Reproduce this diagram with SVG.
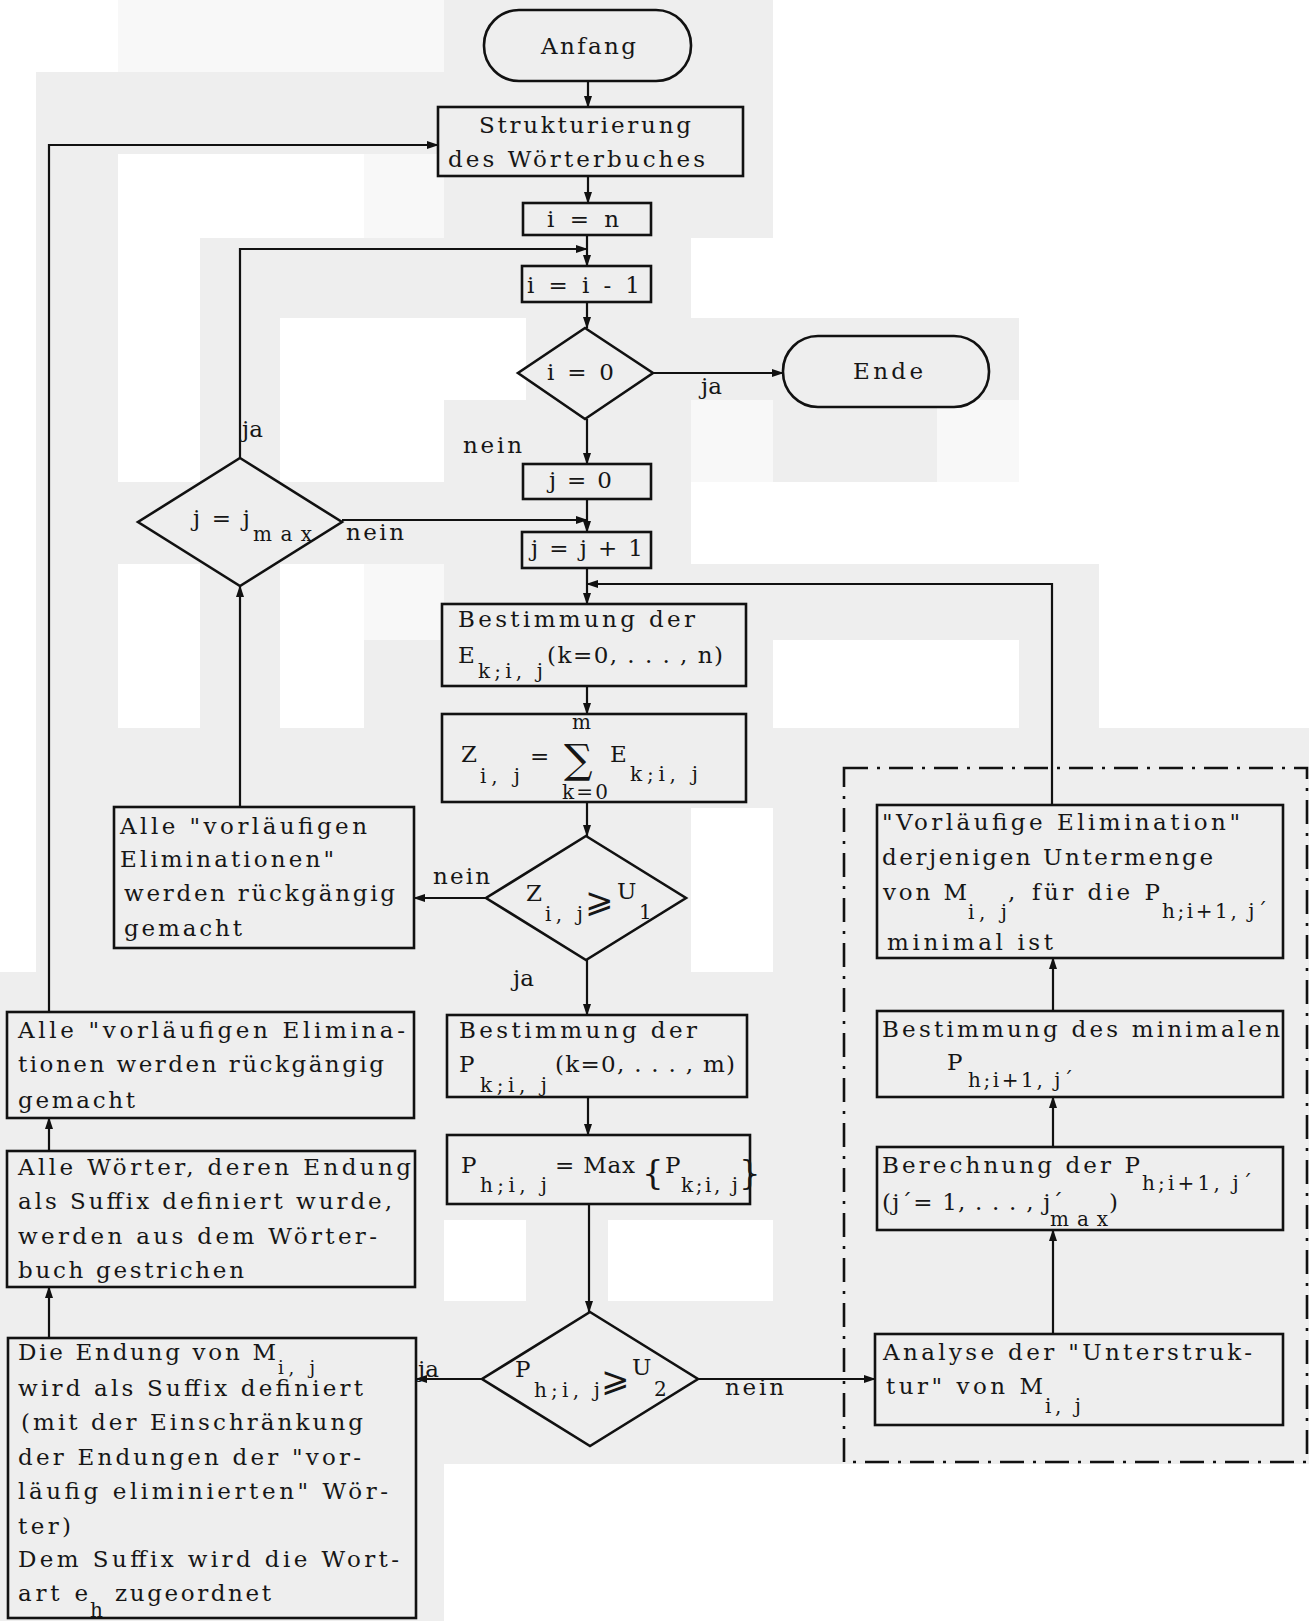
<svg xmlns="http://www.w3.org/2000/svg" width="1309" height="1621" viewBox="0 0 1309 1621">
<style>
.t{font-family:"DejaVu Serif","Liberation Serif",serif;font-size:23px;fill:#161616}
.s{font-size:20px}
.m{font-family:"DejaVu Sans","Noto Sans",sans-serif}
.b{fill:#eeeeee;stroke:#111;stroke-width:2.6}
.c{fill:none;stroke:#111;stroke-width:2.2;marker-end:url(#ah)}
.bg{fill:#eeeeee}
.w{fill:#ffffff}
.f{fill:#f8f8f8}
</style>
<defs>
<marker id="ah" markerWidth="12" markerHeight="10" refX="11" refY="5" orient="auto" markerUnits="userSpaceOnUse"><path d="M0,1 L12,5 L0,9 Z" fill="#111"/></marker>
</defs>
<g id="background">
<rect class="bg" x="0" y="0" width="1309" height="1621"/>
<rect class="w" x="0" y="0" width="118" height="72"/>
<rect class="f" x="118" y="0" width="326" height="72"/>
<rect class="w" x="0" y="0" width="36" height="972"/>
<rect class="w" x="773" y="0" width="536" height="238"/>
<rect class="w" x="691" y="238" width="618" height="80"/>
<rect class="w" x="1019" y="318" width="290" height="164"/>
<rect class="f" x="691" y="400" width="82" height="82"/>
<rect class="f" x="937" y="400" width="82" height="82"/>
<rect class="w" x="691" y="482" width="618" height="82"/>
<rect class="w" x="1099" y="564" width="210" height="164"/>
<rect class="w" x="773" y="640" width="246" height="88"/>
<rect class="w" x="118" y="154" width="246" height="84"/>
<rect class="f" x="364" y="154" width="80" height="84"/>
<rect class="w" x="118" y="238" width="82" height="244"/>
<rect class="w" x="280" y="318" width="164" height="164"/>
<rect class="w" x="444" y="318" width="82" height="82"/>
<rect class="w" x="118" y="564" width="82" height="164"/>
<rect class="w" x="280" y="564" width="84" height="164"/>
<rect class="f" x="364" y="564" width="80" height="76"/>
<rect class="w" x="691" y="808" width="82" height="164"/>
<rect class="w" x="444" y="1220" width="82" height="81"/>
<rect class="w" x="608" y="1220" width="165" height="81"/>
<rect class="w" x="444" y="1464" width="865" height="157"/>
</g>
<g id="connectors">
<path class="c" d="M588 81 V107"/>
<path class="c" d="M588 176 V203"/>
<path class="c" d="M587 235 V266"/>
<path class="c" d="M240 458 V249 H587"/>
<path class="c" d="M587 302 V328"/>
<path class="c" d="M653 373 H783"/>
<path class="c" d="M587 419 V464"/>
<path class="c" d="M587 499 V532"/>
<path class="c" d="M342 520 H587"/>
<path class="c" d="M587 568 V604"/>
<path class="c" d="M1052 805 V584 H587"/>
<path class="c" d="M587 686 V714"/>
<path class="c" d="M587 802 V836"/>
<path class="c" d="M486 898 H414"/>
<path class="c" d="M240 807 V586"/>
<path class="c" d="M587 960 V1015"/>
<path class="c" d="M588 1097 V1135"/>
<path class="c" d="M589 1204 V1312"/>
<path class="c" d="M482 1379 H416"/>
<path class="c" d="M698 1379 H875"/>
<path class="c" d="M1053 1334 V1230"/>
<path class="c" d="M1053 1147 V1097"/>
<path class="c" d="M1053 1011 V958"/>
<path class="c" d="M49 1338 V1287"/>
<path class="c" d="M49 1151 V1118"/>
<path class="c" d="M49 1012 V145 H438"/>
<text class="t" x="701" y="394">ja</text>
<text class="t" x="463" y="453" textLength="59">nein</text>
<text class="t" x="242" y="437">ja</text>
<text class="t" x="346" y="540" textLength="58">nein</text>
<text class="t" x="433" y="884" textLength="57">nein</text>
<text class="t" x="513" y="986">ja</text>
<text class="t" x="418" y="1377">ja</text>
<text class="t" x="725" y="1395" textLength="59">nein</text>
</g>
<g id="frame">
<rect x="844" y="768" width="463" height="694" fill="none" stroke="#111" stroke-width="2.6" stroke-dasharray="24 9 3 9"/>
</g>
<g id="anfang">
<rect class="b" x="484" y="10" width="207" height="71" rx="35"/>
<text class="t" x="541" y="54" textLength="95">Anfang</text>
</g>
<g id="strukturierung">
<rect class="b" x="438" y="107" width="305" height="69"/>
<text class="t" x="479" y="133" textLength="212">Strukturierung</text>
<text class="t" x="448" y="167" textLength="257">des Wörterbuches</text>
</g>
<g id="i_n">
<rect class="b" x="523" y="203" width="128" height="32"/>
<text class="t" x="547" y="227" textLength="72">i = n</text>
</g>
<g id="i_dec">
<rect class="b" x="522" y="266" width="129" height="36"/>
<text class="t" x="527" y="293" textLength="113">i = i - 1</text>
</g>
<g id="i_zero">
<path class="b" d="M585 328 L653 373 L585 419 L518 373 Z"/>
<text class="t" x="547" y="380" textLength="67">i = 0</text>
</g>
<g id="ende">
<rect class="b" x="783" y="336" width="206" height="71" rx="35"/>
<text class="t" x="853" y="379" textLength="70">Ende</text>
</g>
<g id="j_zero">
<rect class="b" x="523" y="464" width="128" height="35"/>
<text class="t" x="549" y="488" textLength="63">j = 0</text>
</g>
<g id="j_inc">
<rect class="b" x="522" y="532" width="129" height="36"/>
<text class="t" x="531" y="556" textLength="112">j = j + 1</text>
</g>
<g id="j_max">
<path class="b" d="M240 458 L342 522 L240 586 L138 522 Z"/>
<text class="t" x="193" y="526" textLength="57">j = j</text>
<text class="t s" x="253" y="541" textLength="59">max</text>
</g>
<g id="best_e">
<rect class="b" x="442" y="604" width="304" height="82"/>
<text class="t" x="458" y="627" textLength="237">Bestimmung der</text>
<text class="t" x="458" y="663">E</text>
<text class="t s" x="478" y="678" textLength="65">k;i, j</text>
<text class="t" x="547" y="663" textLength="176">(k=0, . . . , n)</text>
</g>
<g id="z_sum">
<rect class="b" x="442" y="714" width="304" height="88"/>
<text class="t" x="461" y="762">Z</text>
<text class="t s" x="480" y="783" textLength="40">i, j</text>
<text class="t" x="530" y="764">=</text>
<text class="t s" x="572" y="729" textLength="28">m</text>
<text class="t" x="564" y="773" style="font-size:40px">∑</text>
<text class="t s" x="562" y="799" textLength="46">k=0</text>
<text class="t" x="610" y="762">E</text>
<text class="t s" x="630" y="781" textLength="68">k;i, j</text>
</g>
<g id="z_u1">
<path class="b" d="M586 836 L686 898 L586 960 L486 898 Z"/>
<text class="t" x="526" y="901">Z</text>
<text class="t s" x="545" y="921" textLength="38">i, j</text>
<text class="t m" x="585" y="912" style="font-size:34px">⩾</text>
<text class="t" x="617" y="899">U</text>
<text class="t s" x="639" y="919">1</text>
</g>
<g id="undo1">
<rect class="b" x="114" y="807" width="300" height="141"/>
<text class="t" x="120" y="834" textLength="247">Alle "vorläufigen</text>
<text class="t" x="120" y="867" textLength="214">Eliminationen"</text>
<text class="t" x="124" y="901" textLength="271">werden rückgängig</text>
<text class="t" x="124" y="936" textLength="118">gemacht</text>
</g>
<g id="best_p">
<rect class="b" x="447" y="1015" width="300" height="82"/>
<text class="t" x="459" y="1038" textLength="238">Bestimmung der</text>
<text class="t" x="459" y="1072">P</text>
<text class="t s" x="480" y="1092" textLength="67">k;i, j</text>
<text class="t" x="555" y="1072" textLength="180">(k=0, . . . , m)</text>
</g>
<g id="p_max">
<rect class="b" x="447" y="1135" width="303" height="69"/>
<text class="t" x="461" y="1173">P</text>
<text class="t s" x="480" y="1192" textLength="67">h;i, j</text>
<text class="t" x="555" y="1173" textLength="80">= Max</text>
<text class="t" x="642" y="1184" style="font-size:34px">{</text>
<text class="t" x="665" y="1173">P</text>
<text class="t s" x="681" y="1192" textLength="57">k;i, j</text>
<text class="t" x="739" y="1184" style="font-size:34px">}</text>
</g>
<g id="p_u2">
<path class="b" d="M590 1312 L698 1379 L590 1446 L482 1379 Z"/>
<text class="t" x="515" y="1377">P</text>
<text class="t s" x="534" y="1397" textLength="66">h;i, j</text>
<text class="t m" x="601" y="1391" style="font-size:34px">⩾</text>
<text class="t" x="632" y="1375">U</text>
<text class="t s" x="654" y="1396">2</text>
</g>
<g id="undo2">
<rect class="b" x="7" y="1012" width="407" height="106"/>
<text class="t" x="18" y="1038" textLength="387">Alle "vorläufigen Elimina-</text>
<text class="t" x="18" y="1072" textLength="366">tionen werden rückgängig</text>
<text class="t" x="18" y="1108" textLength="117">gemacht</text>
</g>
<g id="delete">
<rect class="b" x="7" y="1151" width="408" height="136"/>
<text class="t" x="18" y="1175" textLength="393">Alle Wörter, deren Endung</text>
<text class="t" x="18" y="1209" textLength="374">als Suffix definiert wurde,</text>
<text class="t" x="18" y="1244" textLength="359">werden aus dem Wörter-</text>
<text class="t" x="18" y="1278" textLength="226">buch gestrichen</text>
</g>
<g id="suffix">
<rect class="b" x="8" y="1338" width="408" height="280"/>
<text class="t" x="18" y="1360" textLength="258">Die Endung von M</text>
<text class="t s" x="278" y="1374" textLength="37" style="font-size:18px">i, j</text>
<text class="t" x="18" y="1396" textLength="345">wird als Suffix definiert</text>
<text class="t" x="21" y="1430" textLength="342">(mit der Einschränkung</text>
<text class="t" x="18" y="1465" textLength="343">der Endungen der "vor-</text>
<text class="t" x="18" y="1499" textLength="370">läufig eliminierten" Wör-</text>
<text class="t" x="18" y="1534" textLength="53">ter)</text>
<text class="t" x="18" y="1567" textLength="381">Dem Suffix wird die Wort-</text>
<text class="t" x="18" y="1601" textLength="70">art e</text>
<text class="t s" x="90" y="1617">h</text>
<text class="t" x="115" y="1601" textLength="156">zugeordnet</text>
</g>
<g id="vorl_elim">
<rect class="b" x="877" y="805" width="406" height="153"/>
<text class="t" x="882" y="830" textLength="358">"Vorläufige Elimination"</text>
<text class="t" x="882" y="865" textLength="331">derjenigen Untermenge</text>
<text class="t" x="883" y="900" textLength="84">von M</text>
<text class="t s" x="968" y="919" textLength="39">i, j</text>
<text class="t" x="1008" y="900">,</text>
<text class="t" x="1032" y="900" textLength="128">für die P</text>
<text class="t s" x="1162" y="918" textLength="105">h;i+1, j´</text>
<text class="t" x="887" y="950" textLength="166">minimal ist</text>
</g>
<g id="best_min">
<rect class="b" x="877" y="1011" width="406" height="86"/>
<text class="t" x="882" y="1037" textLength="398">Bestimmung des minimalen</text>
<text class="t" x="947" y="1070">P</text>
<text class="t s" x="968" y="1087" textLength="105">h;i+1, j´</text>
</g>
<g id="berechnung">
<rect class="b" x="877" y="1147" width="406" height="83"/>
<text class="t" x="882" y="1173" textLength="258">Berechnung der P</text>
<text class="t s" x="1142" y="1190" textLength="110">h;i+1, j´</text>
<text class="t" x="882" y="1210" textLength="181">(j´= 1, . . . , j´</text>
<text class="t s" x="1050" y="1226" textLength="58">max</text>
<text class="t" x="1109" y="1210">)</text>
</g>
<g id="analyse">
<rect class="b" x="875" y="1334" width="408" height="91"/>
<text class="t" x="883" y="1360" textLength="369">Analyse der "Unterstruk-</text>
<text class="t" x="886" y="1394" textLength="157">tur" von M</text>
<text class="t s" x="1045" y="1413" textLength="36">i, j</text>
</g>
</svg>
